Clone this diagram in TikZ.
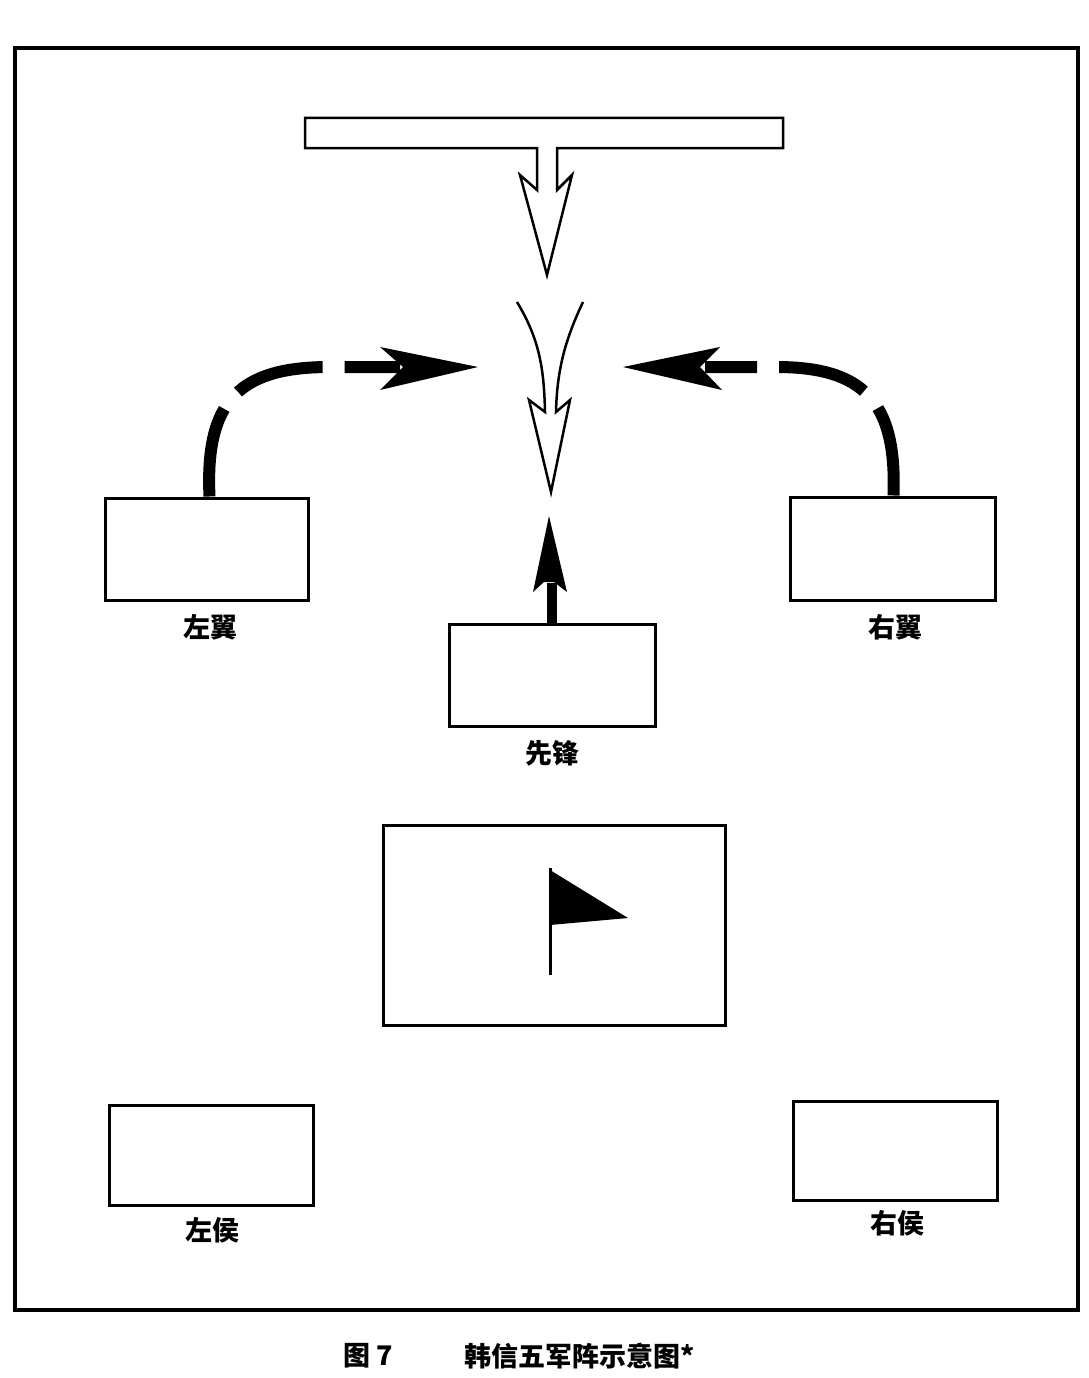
\documentclass[tikz,border=0pt]{standalone}
\usetikzlibrary{calc}
\usepackage{fontspec}
\newfontfamily\cjk{Noto Sans CJK SC}
\begin{document}
\begin{tikzpicture}[x=1pt,y=-1pt,
  box/.style={draw,line width=3pt},
  lbl/.style={font=\cjk\bfseries\fontsize{27}{27}\selectfont},
  thin/.style={draw,line width=2.5pt,line join=miter},
  arc/.style={line width=12pt,dash pattern=on 90pt off 22pt}]
\useasboundingbox (0,0) rectangle (1088,1378);
\draw[line width=3.5pt] (15,48) rectangle (1078,1310);
% T
\draw[thin] (305,118) -- (783,118) -- (783,148) -- (557,148) -- (557,190) -- (572,175) -- (547,275) -- (520,175) -- (537,190) -- (537,148) -- (305,148) -- cycle;
% converging arrow
\draw[thin] (517,302) .. controls (540,340) and (544,370) .. (545,412) -- (529,400) -- (551,492) -- (570,400) -- (556,412) .. controls (557,370) and (565,340) .. (583,302);
% boxes
\node[box,minimum width=203pt,minimum height=102pt,inner sep=0] (lw) at (206.5,549) {};
\node[box,minimum width=205pt,minimum height=103pt,inner sep=0] (rw) at (892.5,548.5) {};
\node[box,minimum width=206pt,minimum height=102pt,inner sep=0] (xf) at (552,675) {};
\node[box,minimum width=342pt,minimum height=200pt,inner sep=0] (zj) at (554,925) {};
\node[box,minimum width=204pt,minimum height=100pt,inner sep=0] (lh) at (211,1155) {};
\node[box,minimum width=204pt,minimum height=99pt,inner sep=0] (rh) at (895,1150.5) {};
\node[lbl] at (210,627) {左翼};
\node[lbl] at (895,627) {右翼};
\node[lbl] at (552,753) {先锋};
\node[lbl] at (212,1230) {左侯};
\node[lbl] at (897,1223) {右侯};
\node[lbl] (cap1) at (368,1356) {图 7};
\node[lbl] (cap2) at (580,1356) {韩信五军阵示意图*};
% flag
\draw[line width=3pt] (550,975) -- (550,868);
\fill (550,870) -- (628,918) -- (550,925) -- cycle;
% vanguard arrow
\fill ($(xf.north)+(-5,0)$) rectangle ++(10,-40);
\fill (549,516) -- (567,592) -- (554,582) -- (544,582) -- (533,592) -- cycle;
% wing arcs
\draw[arc] ($(lw.north)+(3,0)$) .. controls (205,400) and (240,367) .. (330,367) -- (400,367);
\fill (478,367) -- (380,347) -- (403,367) -- (380,390) -- cycle;
\draw[arc] ($(rw.north)+(1,0)$) .. controls (897,400) and (862,367) .. (776,367) -- (705,367);
\fill (623,367) -- (720,347) -- (700,367) -- (722,390) -- cycle;
\end{tikzpicture}
\end{document}
